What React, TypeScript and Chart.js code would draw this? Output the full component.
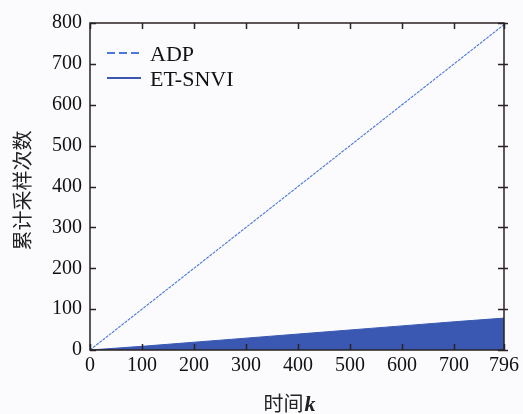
import React, { useEffect, useRef } from "react";
import { Chart, registerables } from "chart.js";

Chart.register(...registerables);

// Time steps and cumulative sample counts
const adpK = [0, 796];
const adpCount = [0, 796];
const etK = [0, 100, 200, 300, 400, 500, 600, 700, 796];
const etCount = [0, 9, 19, 29, 39, 49, 59, 69, 78];
const xTickValues = [0, 100, 200, 300, 400, 500, 600, 700, 796];
const yTickValues = [0, 100, 200, 300, 400, 500, 600, 700, 800];
const legendLabels = ["ADP", "ET-SNVI"];
const yTitle = "累计采样次数";
const xTitleMain = "时间";
const xTitleVar = "k";

const ADP_COLOR = "#4a78d8";
const ET_COLOR = "rgb(58,88,178)";
const FRAME = "#2a2222";
const SERIF = "'Liberation Serif', 'DejaVu Serif', serif";
const CJK = "'Noto Sans CJK SC', sans-serif";

const framePlugin = {
  id: "frameAndTitles",
  afterDraw(chart: any) {
    const { ctx, chartArea: a, scales } = chart;
    const xs = scales.x;
    const ys = scales.y;
    ctx.save();
    // frame
    ctx.strokeStyle = FRAME;
    ctx.lineWidth = 1.5;
    ctx.strokeRect(a.left, a.top, a.right - a.left, a.bottom - a.top);
    // inward ticks
    const tl = 6;
    ctx.beginPath();
    xTickValues.forEach((v) => {
      const px = Math.round(xs.getPixelForValue(v)) + 0.5;
      ctx.moveTo(px, a.bottom);
      ctx.lineTo(px, a.bottom - tl);
      ctx.moveTo(px, a.top);
      ctx.lineTo(px, a.top + tl);
    });
    yTickValues.forEach((v) => {
      const py = Math.round(ys.getPixelForValue(v)) + 0.5;
      ctx.moveTo(a.left, py);
      ctx.lineTo(a.left + tl, py);
      ctx.moveTo(a.right - tl, py);
      ctx.lineTo(a.right + 4, py);
    });
    ctx.stroke();

    // legend
    const lx0 = 107;
    const lx1 = 141;
    const rows = [53, 78];
    ctx.lineWidth = 1.8;
    ctx.strokeStyle = ADP_COLOR;
    ctx.setLineDash([8, 4]);
    ctx.beginPath();
    ctx.moveTo(lx0, rows[0]);
    ctx.lineTo(lx1, rows[0]);
    ctx.stroke();
    ctx.setLineDash([]);
    ctx.strokeStyle = ET_COLOR;
    ctx.lineWidth = 2.2;
    ctx.beginPath();
    ctx.moveTo(lx0, rows[1]);
    ctx.lineTo(lx1, rows[1]);
    ctx.stroke();
    ctx.fillStyle = "#111";
    ctx.font = `22px ${SERIF}`;
    ctx.textBaseline = "alphabetic";
    ctx.textAlign = "left";
    ctx.fillText(legendLabels[0], 150, 60.5);
    ctx.fillText(legendLabels[1], 150, 85.5);

    // y title
    ctx.save();
    ctx.translate(22, (a.top + a.bottom) / 2 + 4);
    ctx.rotate(-Math.PI / 2);
    ctx.font = `20px ${CJK}`;
    ctx.textAlign = "center";
    ctx.textBaseline = "middle";
    ctx.fillStyle = "#222";
    ctx.fillText(yTitle, 0, 0);
    ctx.restore();

    // x title
    ctx.font = `20px ${CJK}`;
    const w1 = ctx.measureText(xTitleMain).width;
    ctx.font = `italic bold 22px ${SERIF}`;
    const w2 = ctx.measureText(xTitleVar).width;
    const start = 289 - (w1 + w2) / 2;
    ctx.textAlign = "left";
    ctx.textBaseline = "alphabetic";
    ctx.fillStyle = "#222";
    ctx.font = `20px ${CJK}`;
    ctx.fillText(xTitleMain, start, 411);
    ctx.font = `italic bold 22px ${SERIF}`;
    ctx.fillText(xTitleVar, start + w1 + 1, 411);
    ctx.restore();
  },
};

export default function App() {
  const ref = useRef<HTMLCanvasElement | null>(null);
  useEffect(() => {
    if (!ref.current) return;
    const chart = new Chart(ref.current, {
      type: "line",
      data: {
        datasets: [
          {
            label: legendLabels[1],
            data: etK.map((k, i) => ({ x: k, y: etCount[i] })),
            borderColor: ET_COLOR,
            backgroundColor: ET_COLOR,
            borderWidth: 1,
            pointRadius: 0,
            fill: "origin",
            tension: 0,
          },
          {
            label: legendLabels[0],
            data: adpK.map((k, i) => ({ x: k, y: adpCount[i] })),
            borderColor: ADP_COLOR,
            borderWidth: 1.1,
            borderDash: [3, 1],
            pointRadius: 0,
            fill: false,
            tension: 0,
          },
        ],
      },
      options: {
        animation: false,
        responsive: false,
        maintainAspectRatio: false,
        layout: { padding: { left: 0, top: 23, right: 19, bottom: 0 } },
        plugins: { legend: { display: false }, tooltip: { enabled: false } },
        scales: {
          x: {
            type: "linear",
            min: 0,
            max: 796,
            grid: { display: false, drawTicks: false },
            border: { display: false },
            ticks: {
              color: "#111",
              font: { family: SERIF, size: 20 },
              padding: 4,
              maxRotation: 0,
              autoSkip: false,
            },
            afterBuildTicks: (s: any) => {
              s.ticks = xTickValues.map((v) => ({ value: v }));
            },
            afterFit: (s: any) => {
              s.height = 64;
            },
          },
          y: {
            type: "linear",
            min: 0,
            max: 800,
            grid: { display: false, drawTicks: false },
            border: { display: false },
            ticks: {
              color: "#111",
              font: { family: SERIF, size: 20 },
              padding: 8,
              stepSize: 100,
            },
            afterBuildTicks: (s: any) => {
              s.ticks = yTickValues.map((v) => ({ value: v }));
            },
            afterFit: (s: any) => {
              s.width = 90;
            },
          },
        },
      },
      plugins: [framePlugin],
    });
    return () => chart.destroy();
  }, []);
  return (
    <div style={{ position: "fixed", left: 0, top: 0, width: 523, height: 414, background: "#fbfbfe" }}>
      <canvas ref={ref} width={523} height={414} />
    </div>
  );
}
